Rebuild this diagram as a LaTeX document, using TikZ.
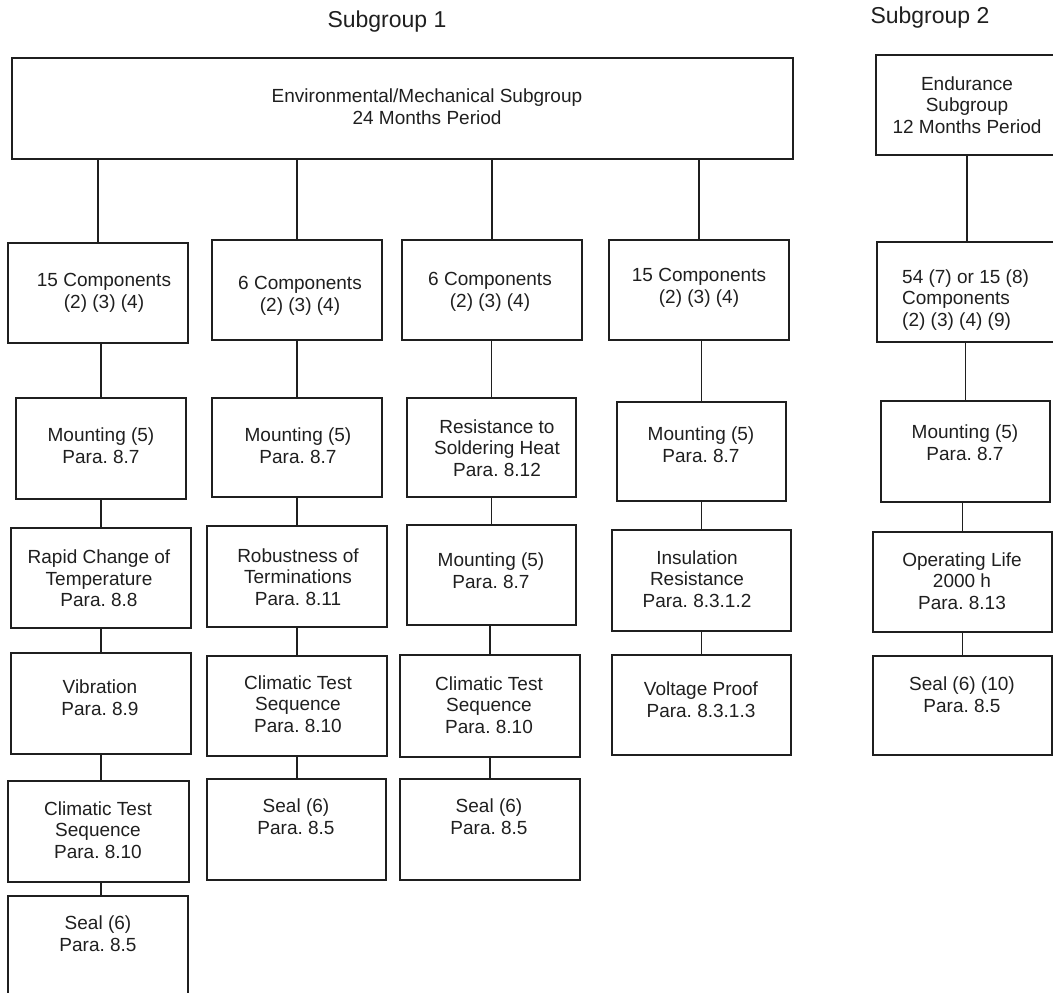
\documentclass[tikz,border=0pt]{standalone}
\usepackage{fontspec}
\setmainfont{Liberation Sans}
\frenchspacing
\begin{document}
\begin{tikzpicture}[x=1pt,y=-1pt,
  box/.style={draw=black!88, line width=1.7pt, inner sep=0pt, rectangle},
  txt/.style={inner sep=0pt, align=center, font=\fontsize{19}{21.7}\selectfont\frenchspacing, text=black!88},
  txtl/.style={inner sep=0pt, align=left, anchor=west, font=\fontsize{19}{21.7}\selectfont, text=black!88},
  head/.style={inner sep=0pt, font=\fontsize{23}{27}\selectfont, text=black!88},
  link/.style={draw=black!88, line width=1.6pt}]
\useasboundingbox (0,0) rectangle (1053,993);
\clip (0,0) rectangle (1053,993);

% headings
\node[head] (sg1) at (387,22) {Subgroup 1};
\node[head] (sg2) at (930,18) {Subgroup 2};

% top boxes
\node[box, minimum width=781, minimum height=101] (top) at (402.5,108.5) {};
\node[txt] (topt) at (427,107) {Environmental/Mechanical Subgroup\\24 Months Period};
\node[box, minimum width=224, minimum height=100] (etop) at (988,105) {};
\node[txt] (etopt) at (967,105) {Endurance\\Subgroup\\12 Months Period};

% column 1
\node[box, minimum width=180, minimum height=100] (c1) at (98,293) {};
\node[txt] (c1t) at (104,293) {15 Components\\(2) (3) (4)};
\node[box, minimum width=170, minimum height=101] (m1) at (101,448.5) {};
\node[txt] (m1t) at (101,446) {Mounting (5)\\Para. 8.7};
\node[box, minimum width=180, minimum height=100] (r1) at (101,578) {};
\node[txt] (r1t) at (99,578.5) {Rapid Change of\\Temperature\\Para. 8.8};
\node[box, minimum width=180, minimum height=101] (v1) at (101,703.5) {};
\node[txt] (v1t) at (100,698) {Vibration\\Para. 8.9};
\node[box, minimum width=181, minimum height=101] (cl1) at (98.5,831.5) {};
\node[txt] (cl1t) at (98,830) {Climatic Test\\Sequence\\Para. 8.10};
\node[box, minimum width=180, minimum height=130] (s1) at (98,961) {};
\node[txt] (s1t) at (98,934) {Seal (6)\\Para. 8.5};

% column 2
\node[box, minimum width=170, minimum height=100] (c2) at (297,290) {};
\node[txt] (c2t) at (300,296) {6 Components\\(2) (3) (4)};
\node[box, minimum width=170, minimum height=99] (m2) at (297,447.5) {};
\node[txt] (m2t) at (298,446) {Mounting (5)\\Para. 8.7};
\node[box, minimum width=180, minimum height=101] (rb2) at (297,576.5) {};
\node[txt] (rb2t) at (298,577) {Robustness of\\Terminations\\Para. 8.11};
\node[box, minimum width=180, minimum height=100] (cl2) at (297,706) {};
\node[txt] (cl2t) at (298,704) {Climatic Test\\Sequence\\Para. 8.10};
\node[box, minimum width=179, minimum height=101] (s2) at (296.5,829.5) {};
\node[txt] (s2t) at (296,817) {Seal (6)\\Para. 8.5};

% column 3
\node[box, minimum width=180, minimum height=100] (c3) at (492,290) {};
\node[txt] (c3t) at (490,292) {6 Components\\(2) (3) (4)};
\node[box, minimum width=169, minimum height=99] (rs3) at (491.5,447.5) {};
\node[txt] (rs3t) at (497,448) {Resistance to\\Soldering Heat\\Para. 8.12};
\node[box, minimum width=169, minimum height=100] (m3) at (491.5,575) {};
\node[txt] (m3t) at (491,571) {Mounting (5)\\Para. 8.7};
\node[box, minimum width=180, minimum height=102] (cl3) at (490,706) {};
\node[txt] (cl3t) at (489,705) {Climatic Test\\Sequence\\Para. 8.10};
\node[box, minimum width=180, minimum height=101] (s3) at (490,829.5) {};
\node[txt] (s3t) at (489,817) {Seal (6)\\Para. 8.5};

% column 4
\node[box, minimum width=180, minimum height=100] (c4) at (699,290) {};
\node[txt] (c4t) at (699,288) {15 Components\\(2) (3) (4)};
\node[box, minimum width=169, minimum height=99] (m4) at (701.5,451.5) {};
\node[txt] (m4t) at (701,445) {Mounting (5)\\Para. 8.7};
\node[box, minimum width=179, minimum height=101] (in4) at (701.5,580.5) {};
\node[txt] (in4t) at (697,579) {Insulation\\Resistance\\Para. 8.3.1.2};
\node[box, minimum width=179, minimum height=100] (vp4) at (701.5,705) {};
\node[txt] (vp4t) at (701,700) {Voltage Proof\\Para. 8.3.1.3};

% column 5 (endurance)
\node[box, minimum width=223, minimum height=100] (ce) at (988.5,292) {};
\node[txtl] (cet) at (902,300) {54 (7) or 15 (8)\\Components\\(2) (3) (4) (9)};
\node[box, minimum width=169, minimum height=101] (me) at (965.5,451.5) {};
\node[txt] (met) at (965,442.5) {Mounting (5)\\Para. 8.7};
\node[box, minimum width=179, minimum height=100] (oe) at (962.5,582) {};
\node[txt] (oet) at (962,581) {Operating Life\\2000 h\\Para. 8.13};
\node[box, minimum width=179, minimum height=99] (se) at (962.5,705.5) {};
\node[txt] (set) at (962,694.5) {Seal (6) (10)\\Para. 8.5};

% connectors from top box
\draw[link] (top.south -| c1.north) -- (c1.north);
\draw[link] (top.south -| c2.north) -- (c2.north);
\draw[link] (top.south -| c3.north) -- (c3.north);
\draw[link] (top.south -| c4.north) -- (c4.north);

% column 1
\draw[link] (c1.south -| m1.north) -- (m1.north);
\draw[link] (m1.south) -- (m1.south |- r1.north);
\draw[link] (r1.south) -- (r1.south |- v1.north);
\draw[link] (v1.south) -- (v1.south |- cl1.north);
\draw[link] (cl1.south -| v1.south) -- (s1.north -| v1.south);

% column 2
\draw[link] (c2.south) -- (m2.north);
\draw[link] (m2.south) -- (m2.south |- rb2.north);
\draw[link] (rb2.south) -- (rb2.south |- cl2.north);
\draw[link] (cl2.south) -- (cl2.south |- s2.north);

% column 3
\draw[link] (c3.south -| rs3.north) -- (rs3.north);
\draw[link] (rs3.south) -- (rs3.south |- m3.north);
\draw[link] (m3.south -| cl3.north) -- (cl3.north);
\draw[link] (cl3.south) -- (cl3.south |- s3.north);

% column 4
\draw[link] (c4.south -| m4.north) -- (m4.north);
\draw[link] (m4.south) -- (m4.south |- in4.north);
\draw[link] (in4.south) -- (in4.south |- vp4.north);

% column 5
\draw[link] (etop.south -| etopt.south) -- (ce.north -| etopt.south);
\draw[link] (ce.south -| me.north) -- (me.north);
\draw[link] (me.south -| oe.north) -- (oe.north);
\draw[link] (oe.south) -- (oe.south |- se.north);
\end{tikzpicture}
\end{document}
